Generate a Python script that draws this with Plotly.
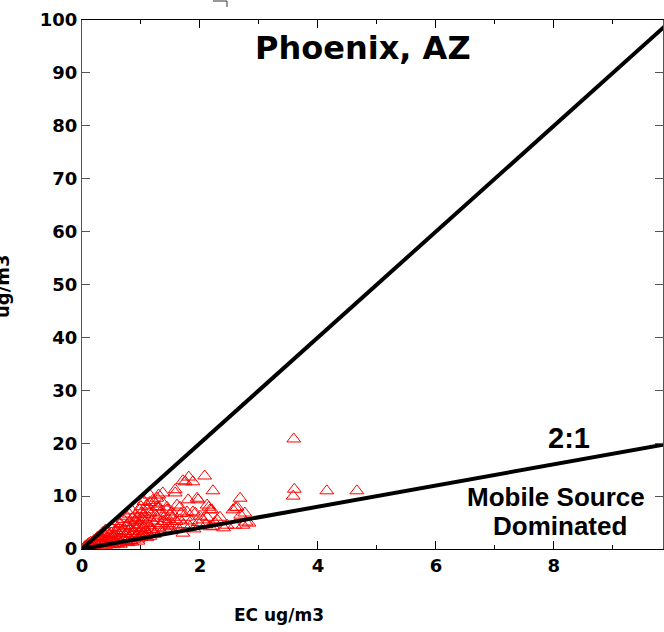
import plotly.graph_objects as go

# Phoenix, AZ speciation: elemental carbon (EC) vs organic carbon (OC), ug/m3
EC = [
    0.04, 0.06, 0.08, 0.1, 0.1, 0.12, 0.14, 0.15, 0.16, 0.18,
    0.2, 0.2, 0.22, 0.24, 0.25, 0.26, 0.28, 0.3, 0.3, 0.32,
    0.33, 0.35, 0.36, 0.38, 0.4, 0.4, 0.42, 0.43, 0.45, 0.46,
    0.48, 0.5, 0.5, 0.52, 0.53, 0.55, 0.56, 0.58, 0.6, 0.6,
    0.62, 0.63, 0.65, 0.66, 0.68, 0.7,
    0.72, 0.73, 0.75, 0.76, 0.78, 0.78, 0.8, 0.8, 0.82, 0.83,
    0.85, 0.86, 0.88, 0.88, 0.9, 0.9, 0.92, 0.93, 0.93, 0.95,
    0.96, 0.98, 0.98, 1.0, 1.0, 1.02, 1.03, 1.03, 1.05, 1.05,
    1.07, 1.08, 1.1, 1.1, 1.12, 1.13, 1.15, 1.15, 1.15, 1.15,
    1.17, 1.18, 1.2, 1.2, 1.22, 1.23,
    1.25, 1.27, 1.27, 1.28, 1.3, 1.3, 1.32, 1.32, 1.35, 1.37,
    1.37, 1.38, 1.4, 1.42, 1.44, 1.44, 1.45, 1.47, 1.49, 1.49,
    1.49, 1.52, 1.54, 1.55, 1.58, 1.58, 1.6, 1.61, 1.63, 1.66,
    1.66, 1.68, 1.71, 1.71, 1.72, 1.75, 1.76, 1.78, 1.8, 1.81,
    1.83, 1.85, 1.88, 1.88, 1.9, 1.92, 1.95, 1.97, 1.97, 2.0,
    2.05, 2.08, 2.1, 2.12, 2.12, 2.15, 2.17, 2.17, 2.2, 2.22,
    2.22, 2.25, 2.29,
    2.34, 2.4, 2.46, 2.56, 2.59, 2.6, 2.63, 2.68, 2.69, 2.73,
    2.76, 2.78, 2.83, 3.59, 3.6, 3.58, 4.15, 4.66,
    0.35, 0.45, 0.5, 0.55, 0.6, 0.65, 0.7, 0.7, 0.75, 0.8,
    0.85, 0.85, 0.9, 0.95, 1.0, 1.0, 1.05, 1.1, 1.15, 1.2,
    1.25, 1.3, 0.4, 0.3, 0.55, 0.65, 0.75, 0.85, 0.95, 1.1,
]
OC = [
    0.3, 0.6, 0.4, 0.9, 0.5, 1.1, 0.7, 1.3, 0.4, 1.0,
    1.6, 0.6, 1.2, 1.9, 0.8, 2.2, 1.4, 0.9, 2.5, 1.7,
    1.1, 2.0, 2.9, 1.3, 0.7, 2.4, 1.6, 3.2, 1.0, 2.7,
    1.9, 1.2, 3.0, 2.2, 0.8, 1.5, 2.6, 3.5, 1.8, 1.0,
    2.9, 3.9, 1.3, 2.3, 3.3, 1.6,
    2.0, 4.2, 2.8, 4.5, 1.2, 3.4, 2.3, 5.0, 3.8, 1.6,
    2.9, 4.4, 3.3, 1.9, 5.4, 6.4, 2.6, 3.9, 5.1, 1.5,
    3.0, 4.6, 7.4, 2.2, 3.6, 5.7, 2.9, 5.5, 4.1, 6.5,
    2.5, 3.4, 4.9, 8.3, 3.0, 6.0, 2.4, 4.4, 6.8, 10.2,
    3.7, 5.3, 3.6, 7.0, 4.8, 2.8,
    8.5, 9.6, 7.9, 5.8, 4.0, 10.2, 6.8, 4.5, 3.3, 8.7,
    10.6, 5.2, 6.1, 3.8, 7.9, 7.4, 4.8, 5.6, 6.4, 3.6,
    4.2, 7.0, 6.0, 4.5, 10.6, 11.2, 5.2, 8.3, 3.9, 7.9,
    5.5, 6.7, 12.9, 3.0, 4.6, 12.7, 6.0, 7.0, 9.3, 13.6,
    4.2, 5.3, 12.7, 7.0, 3.8, 6.8, 9.6, 9.3, 5.0, 6.2,
    5.5, 13.8, 4.6, 8.3, 6.0, 7.9, 7.4, 4.2, 7.4, 11.0,
    4.3, 5.0, 5.5,
    6.0, 4.0, 4.5, 7.4, 4.5, 7.8, 7.9, 9.6, 6.4, 4.5,
    6.8, 5.1, 4.9, 20.8, 11.3, 10.0, 11.0, 11.0,
    3.1, 2.0, 4.0, 4.6, 5.2, 4.8, 3.0, 5.6, 6.2, 6.6,
    5.8, 7.2, 4.0, 6.0, 8.0, 6.8, 9.0, 7.4, 8.8, 9.2,
    6.4, 8.0, 3.6, 2.2, 1.0, 0.9, 1.4, 1.3, 1.9, 2.2,
]

# OC:EC reference ratios drawn as lines through the origin
RATIOS = [10, 2]
RATIO_EC = [0, 10]

X_TICKS = [0, 2, 4, 6, 8]
Y_TICKS = [0, 10, 20, 30, 40, 50, 60, 70, 80, 90, 100]

TICK_FONT = dict(family="DejaVu Sans", size=18, color="black", weight="bold")

fig = go.Figure()

fig.add_trace(go.Scatter(
    x=EC, y=OC, mode="markers",
    marker=dict(symbol="triangle-up-open", size=12, color="red",
                line=dict(color="red", width=1)),
    showlegend=False,
))

for r in RATIOS:
    fig.add_trace(go.Scatter(
        x=RATIO_EC, y=[r * e for e in RATIO_EC], mode="lines",
        line=dict(color="black", width=4), showlegend=False,
    ))

fig.update_xaxes(
    range=[0, 9.85], tickvals=X_TICKS, ticktext=[str(v) for v in X_TICKS],
    ticks="inside", ticklen=8, tickwidth=1, tickcolor="black",
    showline=True, linecolor="black", linewidth=1, mirror="ticks",
    showgrid=False, zeroline=False, tickfont=TICK_FONT,
    minor=dict(dtick=1, tick0=0, ticks="inside", ticklen=4,
               tickcolor="black", showgrid=False),
)
fig.update_yaxes(
    range=[0, 100], tickvals=Y_TICKS, ticktext=[str(v) for v in Y_TICKS],
    ticks="inside", ticklen=8, tickwidth=1, tickcolor="#555",
    showline=True, linecolor="#555", linewidth=1, mirror="ticks",
    showgrid=False, zeroline=False, tickfont=TICK_FONT,
)

# plot area spans x 82..663, y 20..549 in a 664x632 page
L, R, T, B = 82, 663, 20, 549
W, H = 664, 632


def px(xp):
    return (xp - L) / (R - L)


def py(yp):
    return (B - yp) / (B - T)


annotations = [
    dict(text="Phoenix, AZ", x=px(363), y=py(48),
         font=dict(family="DejaVu Sans", size=32, color="black", weight="bold")),
    dict(text="2:1", x=px(569), y=py(438),
         font=dict(family="Liberation Sans", size=29, color="black", weight="bold")),
    dict(text="Mobile Source", x=px(556), y=py(497),
         font=dict(family="Liberation Sans", size=26, color="black", weight="bold")),
    dict(text="Dominated", x=px(560), y=py(526),
         font=dict(family="Liberation Sans", size=26, color="black", weight="bold")),
    dict(text="EC ug/m3", x=px(279), y=py(615),
         font=dict(family="DejaVu Sans", size=17, color="black", weight="bold")),
    dict(text="ug/m3", x=px(2), y=py(286), textangle=-90,
         font=dict(family="DejaVu Sans", size=18, color="black", weight="bold")),
]
for a in annotations:
    a.update(xref="paper", yref="paper", showarrow=False,
             xanchor="center", yanchor="middle")

fig.update_layout(
    width=W, height=H,
    margin=dict(l=L, r=W - R, t=T, b=H - B, pad=0),
    paper_bgcolor="white", plot_bgcolor="white",
    annotations=annotations,
    shapes=[
        dict(type="line", xref="paper", yref="paper",
             x0=px(213), x1=px(227), y0=py(1), y1=py(1),
             line=dict(color="#333", width=1)),
        dict(type="line", xref="paper", yref="paper",
             x0=px(227), x1=px(227), y0=py(1), y1=py(7),
             line=dict(color="#333", width=1)),
    ],
)

fig.write_html("out.html")
